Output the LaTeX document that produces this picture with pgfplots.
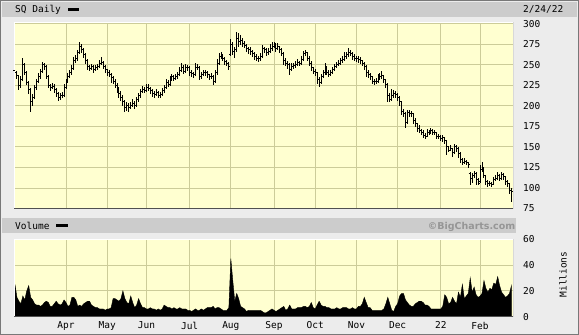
\documentclass[border=0pt]{standalone}
\usepackage{pgfplots}
\pgfplotsset{compat=1.18}
\usepackage{pgfplotstable}
\usepackage{fontspec}
\setmainfont{DejaVu Sans Mono}
\newfontfamily\bcfont{DejaVu Sans}
\definecolor{bg}{RGB}{236,236,236}
\definecolor{band}{RGB}{204,204,204}
\definecolor{plotbg}{RGB}{255,255,208}
\definecolor{gridc}{RGB}{204,204,153}
\definecolor{frame}{RGB}{120,120,120}
\definecolor{edge}{RGB}{80,80,80}
\definecolor{bcgray}{RGB}{150,150,150}
\pgfdeclareplotmark{ohlcopen}{\pgfpathmoveto{\pgfqpoint{-1.5pt}{0pt}}\pgfpathlineto{\pgfqpoint{0pt}{0pt}}\pgfusepathqstroke}
\pgfdeclareplotmark{ohlcclose}{\pgfpathmoveto{\pgfqpoint{0pt}{0pt}}\pgfpathlineto{\pgfqpoint{1.5pt}{0pt}}\pgfusepathqstroke}

\pgfplotstableread{
x o h l c
0 243 246 236 240
1 240 242 233 237
2 237 238 219 225
3 225 236 222 232
4 232 258 230 250
5 250 252 238 240
6 240 242 225 228
7 228 230 214 220
8 220 222 192 205
9 205 214 200 210
10 210 225 208 222
11 222 233 219 230
12 230 240 228 236
13 236 245 233 242
14 242 253 240 250
15 250 252 244 248
16 248 249 232 235
17 235 238 222 225
18 225 227 218 222
19 222 228 220 224
20 224 226 216 220
21 220 222 211 215
22 215 217 206 210
23 210 216 207 212
24 212 217 209 213
25 213 226 211 222
26 222 233 220 230
27 230 240 228 236
28 236 243 234 240
29 240 249 238 245
30 245 259 243 255
31 255 262 252 258
32 258 268 255 265
33 265 278 263 272
34 272 275 264 268
35 268 270 258 262
36 262 264 251 255
37 255 257 244 248
38 248 250 242 245
39 245 251 243 248
40 248 249 240 244
41 244 249 242 246
42 246 251 244 248
43 248 256 246 252
44 252 259 249 253
45 253 255 245 248
46 248 250 240 244
47 244 245 236 240
48 240 243 235 238
49 238 240 228 234
50 234 236 226 230
51 230 233 222 225
52 225 228 216 220
53 220 223 210 215
54 215 218 206 210
55 210 213 200 205
56 205 207 192 198
57 198 204 194 200
58 200 203 193 198
59 198 205 196 200
60 200 208 198 203
61 203 206 196 200
62 200 211 198 208
63 208 215 205 212
64 212 220 210 217
65 217 224 215 220
66 220 223 215 219
67 219 226 217 222
68 222 226 218 221
69 221 223 214 218
70 218 220 211 215
71 215 218 210 214
72 214 220 212 216
73 216 218 210 213
74 213 217 210 214
75 214 221 212 218
76 218 225 216 222
77 222 232 220 228
78 228 231 223 226
79 226 236 224 232
80 232 239 230 235
81 235 237 230 233
82 233 239 231 236
83 236 241 233 238
84 238 247 236 243
85 243 252 241 247
86 247 249 239 242
87 242 251 240 247
88 247 250 242 246
89 246 248 236 240
90 240 243 235 239
91 239 241 234 238
92 238 252 236 246
93 246 251 243 247
94 247 248 231 235
95 235 241 232 238
96 238 244 236 241
97 241 243 236 240
98 240 242 234 238
99 238 239 231 235
100 235 240 233 236
101 236 237 225 230
102 230 244 228 240
103 240 257 238 252
104 252 264 250 260
105 260 266 257 262
106 262 263 254 258
107 258 259 250 254
108 254 256 248 252
109 252 253 244 248
110 262 281 260 275
111 275 278 262 266
112 266 272 258 268
113 268 290 266 282
114 282 289 272 278
115 278 286 274 280
116 280 283 272 276
117 276 279 270 273
118 273 275 265 270
119 270 272 263 268
120 268 271 262 266
121 266 268 259 263
122 263 265 256 260
123 260 263 254 258
124 258 261 253 257
125 257 264 255 260
126 260 274 258 270
127 270 272 264 268
128 268 270 261 265
129 265 270 262 266
130 266 275 264 270
131 270 277 267 272
132 272 278 270 274
133 274 276 265 270
134 270 276 268 272
135 272 273 264 268
136 268 270 260 264
137 264 265 249 255
138 255 258 248 252
139 252 254 245 250
140 250 252 237 244
141 244 252 242 248
142 248 252 245 249
143 249 254 246 250
144 250 257 248 253
145 253 255 248 252
146 252 260 250 256
147 256 267 254 263
148 263 268 260 265
149 265 266 254 258
150 258 260 248 252
151 252 254 242 246
152 246 247 239 242
153 242 245 236 240
154 240 241 226 232
155 232 235 223 228
156 228 239 226 236
157 236 244 234 240
158 240 252 238 247
159 247 248 237 240
160 240 243 235 238
161 238 244 236 241
162 241 247 239 244
163 244 251 242 248
164 248 253 246 250
165 250 256 248 252
166 252 258 250 255
167 255 260 252 256
168 256 265 254 260
169 260 266 257 262
170 262 270 259 265
171 265 268 260 264
172 264 265 256 260
173 260 263 254 258
174 258 261 253 257
175 257 260 252 256
176 256 259 251 255
177 255 256 248 252
178 252 253 244 248
179 248 249 235 240
180 240 243 234 238
181 238 240 231 235
182 235 236 226 230
183 230 233 225 229
184 229 234 226 230
185 230 239 228 234
186 234 240 231 235
187 235 242 233 237
188 237 238 228 232
189 232 233 221 226
190 226 228 204 212
191 212 216 204 208
192 208 220 206 213
193 213 219 209 215
194 215 218 210 214
195 214 216 206 210
196 210 212 200 205
197 205 206 189 193
198 193 196 186 190
199 190 192 173 180
200 180 195 178 192
201 192 195 186 191
202 191 194 186 190
203 190 191 178 182
204 182 185 174 178
205 178 179 168 172
206 172 176 167 170
207 170 172 164 168
208 168 170 161 164
209 164 167 160 163
210 163 172 162 168
211 168 171 164 168
212 168 173 166 170
213 170 172 165 168
214 168 170 164 167
215 167 168 160 163
216 163 166 159 162
217 162 164 157 160
218 160 164 156 161
219 161 162 154 158
220 158 158 140 150
221 150 150 144 146
222 146 152 145 148
223 148 149 138 143
224 143 153 141 150
225 150 152 144 148
226 148 150 137 142
227 142 144 130 135
228 135 136 128 131
229 131 136 129 132
230 132 134 128 131
231 131 132 124 128
232 118 120 104 112
233 112 118 106 115
234 115 121 112 118
235 118 119 104 110
236 110 112 104 105
237 108 128 106 122
238 122 131 120 125
239 125 126 112 115
240 115 116 104 108
241 108 110 101 105
242 105 109 102 106
243 106 107 101 104
244 104 113 103 110
245 110 116 108 112
246 112 119 110 115
247 115 117 108 112
248 112 119 110 116
249 116 118 110 114
250 114 115 104 108
251 108 110 101 105
252 105 106 93 97
253 97 100 83 96
}\pricetable

\pgfplotstableread{
x v
0 25
1 15
2 12
3 10
4 16
5 13
6 20
7 24
8 15
9 13
10 10
11 9
12 9
13 8
14 9
15 11
16 12
17 11
18 8
19 8
20 10
21 12
22 10
23 9
24 10
25 13
26 11
27 8
28 9
29 15
30 15
31 13
32 8
33 9
34 8
35 10
36 11
37 12
38 12
39 9
40 8
41 7
42 7
43 6
44 6
45 6
46 5
47 6
48 6
49 7
50 14
51 14
52 13
53 12
54 14
55 20
56 14
57 11
58 10
59 16
60 11
61 7
62 9
63 14
64 10
65 7
66 7
67 6
68 6
69 7
70 6
71 6
72 5
73 6
74 5
75 6
76 9
77 8
78 7
79 7
80 6
81 7
82 6
83 6
84 7
85 6
86 6
87 6
88 5
89 5
90 4
91 5
92 6
93 5
94 5
95 6
96 5
97 6
98 7
99 7
100 7
101 8
102 6
103 7
104 7
105 6
106 5
107 5
108 5
109 7
110 45
111 28
112 12
113 18
114 14
115 8
116 7
117 6
118 4
119 5
120 5
121 5
122 5
123 5
124 5
125 5
126 4
127 3
128 3
129 4
130 5
131 6
132 5
133 4
134 5
135 6
136 7
137 8
138 5
139 6
140 9
141 6
142 6
143 6
144 7
145 7
146 7
147 8
148 8
149 7
150 8
151 11
152 7
153 6
154 9
155 12
156 9
157 8
158 8
159 7
160 7
161 6
162 6
163 6
164 7
165 6
166 6
167 7
168 7
169 7
170 6
171 6
172 7
173 6
174 6
175 8
176 8
177 10
178 15
179 11
180 7
181 7
182 5
183 5
184 5
185 5
186 5
187 5
188 6
189 10
190 15
191 10
192 5
193 4
194 8
195 10
196 16
197 18
198 18
199 13
200 11
201 9
202 8
203 8
204 10
205 11
206 12
207 12
208 11
209 9
210 9
211 8
212 6
213 6
214 6
215 6
216 6
217 6
218 8
219 17
220 15
221 10
222 11
223 15
224 12
225 10
226 19
227 15
228 25
229 14
230 16
231 18
232 30
233 19
234 23
235 17
236 15
237 16
238 18
239 28
240 22
241 19
242 22
243 21
244 26
245 25
246 31
247 24
248 19
249 17
250 15
251 16
252 18
253 24
}\voltable

\begin{document}
\begin{tikzpicture}[x=1pt,y=1pt]
\useasboundingbox (0,0) rectangle (579,335);
\fill[bg] (0,0) rectangle (579,335);
\draw[frame, line width=1pt] (0.5,0.5) rectangle (578.5,334.5);
% header bands
\fill[band] (2,318) rectangle (577,333);
\fill[band] (2,102) rectangle (516,117);
\node[anchor=base west, inner sep=0pt, font=\fontsize{9.5}{10}\selectfont] at (15,322) {SQ Daily};
\fill[black] (67.5,323.7) rectangle (79,327.3);
\node[anchor=base west, inner sep=0pt, font=\fontsize{9.5}{10}\selectfont] at (523,322) {2/24/22};
\node[anchor=base west, inner sep=0pt, font=\fontsize{9.5}{10}\selectfont] at (15,105.7) {Volume};
\fill[black] (55.7,107.7) rectangle (67.7,111.3);
\node[anchor=base east, inner sep=0pt, text=bcgray, font=\bcfont\bfseries\fontsize{9.5}{10}\selectfont] at (515.5,105.5) {©BigCharts.com};
\node[rotate=90, inner sep=0pt, font=\fontsize{9.5}{10}\selectfont] at (563,60.5) {Millions};

\pgfplotsset{bcaxis/.style={
  scale only axis, width=499pt, anchor=south west,
  xmin=-0.5, xmax=253.8,
  axis background/.style={fill=plotbg},
  axis line style={draw=none},
  xtick={26,47,67,89,110,132,153,174,195,217,237},
  grid=major, major grid style={gridc, line width=0.9pt},
  major tick length=0pt,
  yticklabel pos=right,
  /pgf/number format/assume math mode=true,
  tick label style={font=\fontsize{9.5}{10}\selectfont},
  yticklabel style={anchor=west, inner sep=0pt, xshift=10pt},
  clip=true,
}}

% price panel
\begin{axis}[bcaxis, at={(14pt,126.5pt)}, height=186pt,
  ymin=75, ymax=301.3, ytick={75,100,...,300}, xticklabels={}]
\addplot[only marks, mark=ohlcclose, mark options={draw=black, line width=1pt},
  error bars/.cd, y dir=both, y explicit,
  error bar style={draw=black, line width=1pt, solid}, error mark=none]
  table[x=x, y=c, y error plus expr={\thisrow{h}-\thisrow{c}}, y error minus expr={\thisrow{c}-\thisrow{l}}] {\pricetable};
\addplot[only marks, mark=ohlcopen, mark options={draw=black, line width=1pt}]
  table[x=x, y=o] {\pricetable};
\draw[white, line width=1pt] (rel axis cs:0,0) -- (rel axis cs:0,1) -- (rel axis cs:1,1);
\draw[edge, line width=1pt] (rel axis cs:0,0) -- (rel axis cs:1,0) -- (rel axis cs:1,1);
\end{axis}

% volume panel
\begin{axis}[bcaxis, at={(14pt,18.3pt)}, height=77.4pt,
  ymin=0, ymax=60, ytick={0,20,40,60},
  xticklabels={Apr,May,Jun,Jul,Aug,Sep,Oct,Nov,Dec,22,Feb},
  xticklabel style={anchor=north, inner sep=0pt, yshift=-5pt}]
\addplot[fill=black, draw=black, line width=0.4pt] table[x=x, y=v] {\voltable} \closedcycle;
\draw[white, line width=1pt] (rel axis cs:0,0) -- (rel axis cs:0,1) -- (rel axis cs:1,1);
\draw[edge, line width=1pt] (rel axis cs:0,0) -- (rel axis cs:1,0) -- (rel axis cs:1,1);
\end{axis}
\end{tikzpicture}
\end{document}
